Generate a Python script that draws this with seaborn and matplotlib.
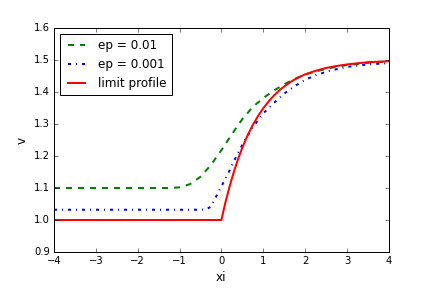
import matplotlib
matplotlib.use('Agg')

import matplotlib.pyplot as plt
import seaborn as sns
import pandas as pd

# ── Data ───────────────────────────────────────────────────────────────────
xi_green = [-4.0, -3.0, -2.0, -1.5, -1.25, -1.0, -0.75, -0.5, -0.25, 0.0,
            0.25, 0.5, 0.75, 1.0, 1.25, 1.5, 1.75, 2.0, 2.25, 2.5, 2.75,
            3.0, 3.5, 4.0]
v_green = [1.1, 1.1, 1.1, 1.1, 1.1, 1.102, 1.112, 1.135, 1.172, 1.218,
           1.268, 1.315, 1.353, 1.381, 1.404, 1.424, 1.441, 1.454, 1.464,
           1.472, 1.479, 1.484, 1.491, 1.495]

xi_blue = [-4.0, -3.0, -2.0, -1.0, -0.5, -0.35, -0.25, -0.2, -0.1, 0.0,
           0.1, 0.2, 0.3, 0.4, 0.5, 0.6, 0.75, 1.0, 1.25, 1.5, 1.75, 2.0,
           2.25, 2.5, 2.75, 3.0, 3.5, 4.0]
v_blue = [1.032, 1.032, 1.032, 1.032, 1.032, 1.034, 1.042, 1.055, 1.08,
          1.105, 1.13, 1.156, 1.184, 1.21, 1.235, 1.258, 1.29, 1.333, 1.365,
          1.395, 1.418, 1.438, 1.452, 1.463, 1.471, 1.478, 1.486, 1.49]

xi_red = [-4.0, -2.0, 0.0, 0.05, 0.1, 0.2, 0.3, 0.4, 0.5, 0.6, 0.75, 0.9,
          1.0, 1.15, 1.25, 1.4, 1.5, 1.65, 1.75, 1.9, 2.0, 2.25, 2.5, 2.75,
          3.0, 3.5, 4.0]
v_red = [1.0, 1.0, 1.0, 1.029, 1.057, 1.107, 1.151, 1.191, 1.226, 1.257,
         1.297, 1.330, 1.349, 1.374, 1.388, 1.407, 1.417, 1.431, 1.439,
         1.449, 1.455, 1.466, 1.475, 1.481, 1.486, 1.493, 1.496]

labels = ['ep = 0.01', 'ep = 0.001', 'limit profile']

# ── Figure ─────────────────────────────────────────────────────────────────
plt.style.use('classic')
plt.rcParams['font.size'] = 10

fig, ax = plt.subplots(figsize=(6, 4), dpi=72)
fig.subplots_adjust(left=0.125, right=0.9, bottom=0.125, top=0.903)

series = [
    (xi_green, v_green, 'green', '--', labels[0]),
    (xi_blue, v_blue, 'blue', '-.', labels[1]),
    (xi_red, v_red, 'red', '-', labels[2]),
]

for xs, vs, col, ls, lab in series:
    df = pd.DataFrame({'xi': xs, 'v': vs})
    sns.lineplot(data=df, x='xi', y='v', color=col, linestyle=ls,
                 lw=2, label=lab, ax=ax, sort=False, estimator=None)

ax.set_xlim(-4, 4)
ax.set_ylim(0.9, 1.6)
ax.set_xlabel('xi', fontsize=12)
ax.set_ylabel('v', fontsize=12)

ax.legend(loc='upper left', fontsize=12)

plt.savefig('out.png', dpi=72, facecolor='white')
plt.close()
